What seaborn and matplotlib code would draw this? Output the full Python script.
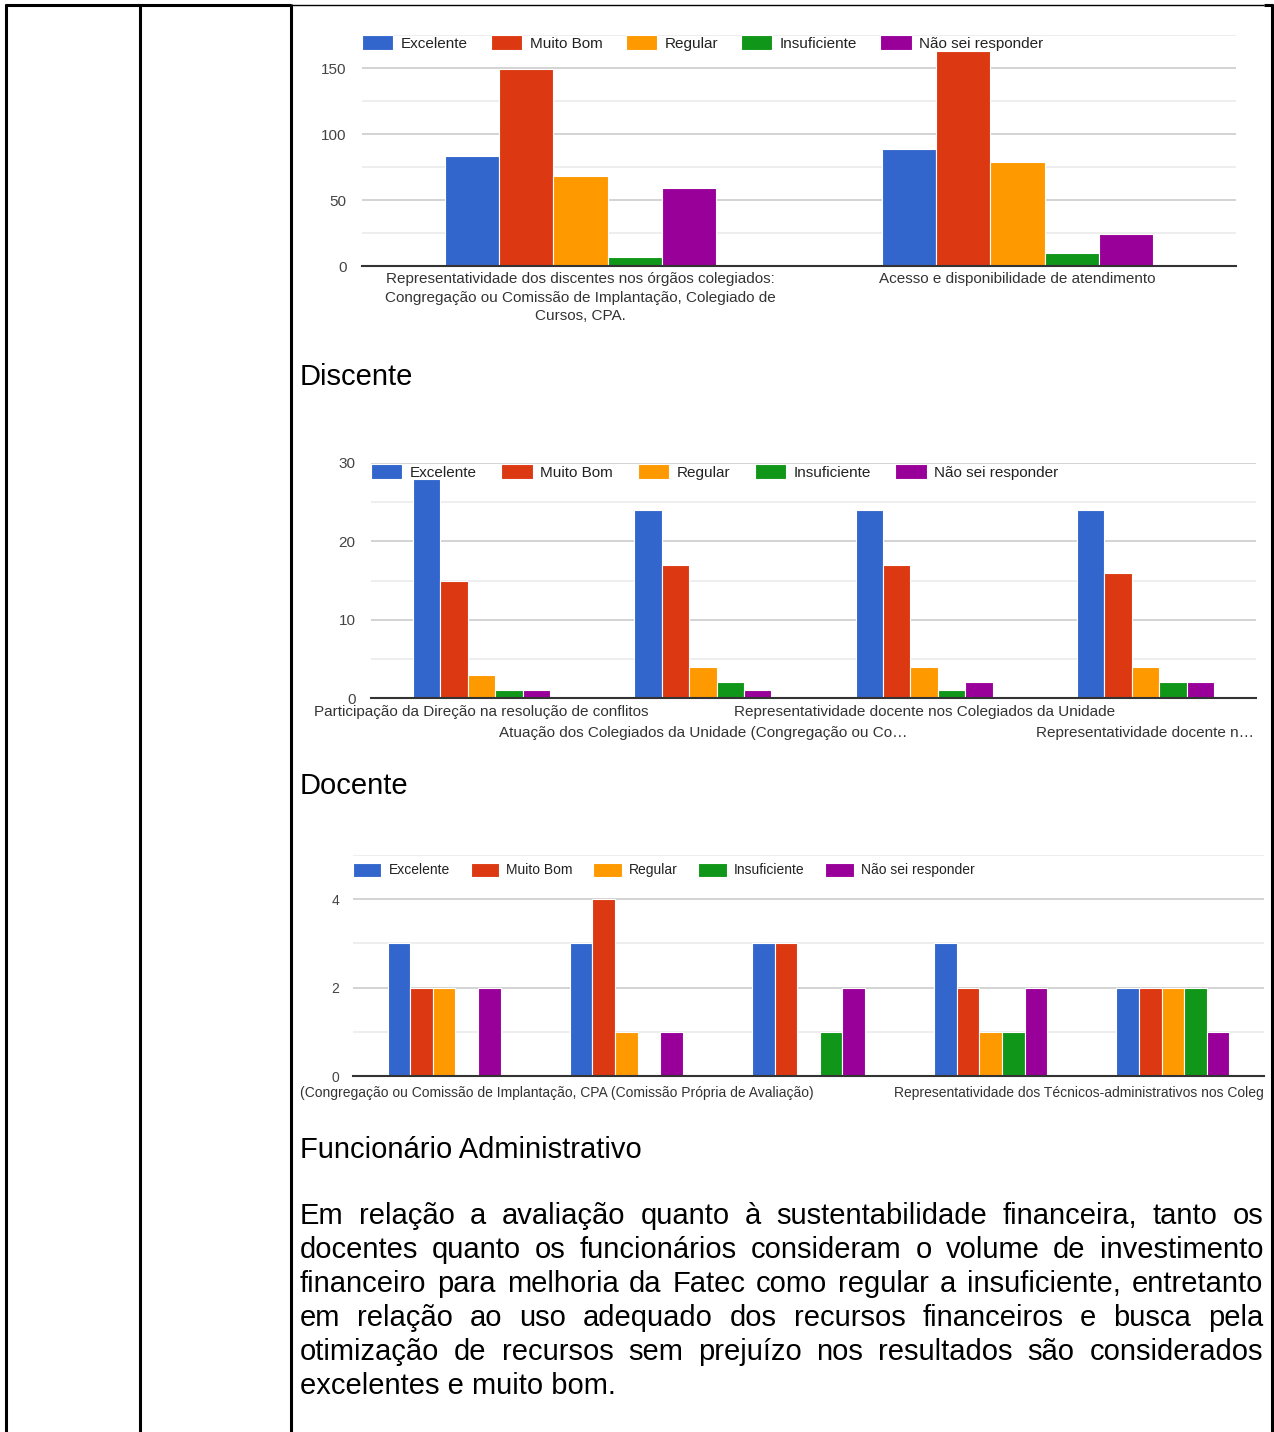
import matplotlib
matplotlib.use("Agg")
import matplotlib.pyplot as plt
from matplotlib.lines import Line2D
import matplotlib.transforms as mtransforms
import seaborn as sns
import pandas as pd

# ---- data ----
series = ["Excelente", "Muito Bom", "Regular", "Insuficiente", "Não sei responder"]
series_colors = ["#3366CC", "#DC3912", "#FF9900", "#109618", "#990099"]

discente_cats = [
    "Representatividade dos discentes nos órgãos colegiados:\n"
    "Congregação ou Comissão de Implantação, Colegiado de\nCursos, CPA.",
    "Acesso e disponibilidade de atendimento",
]
discente_excelente = [83, 89]
discente_muito_bom = [149, 163]
discente_regular = [68, 79]
discente_insuficiente = [7, 10]
discente_nao_sei = [59, 24]

docente_cats = [
    "Participação da Direção na resolução de conflitos",
    "Atuação dos Colegiados da Unidade (Congregação ou Co…",
    "Representatividade docente nos Colegiados da Unidade",
    "Representatividade docente n…",
]
docente_excelente = [28, 24, 24, 24]
docente_muito_bom = [15, 17, 17, 16]
docente_regular = [3, 4, 4, 4]
docente_insuficiente = [1, 2, 1, 2]
docente_nao_sei = [1, 1, 2, 2]

func_cats = ["q1", "q2", "q3", "q4", "q5"]
func_excelente = [3, 3, 3, 3, 2]
func_muito_bom = [2, 4, 3, 2, 2]
func_regular = [2, 1, 0, 1, 2]
func_insuficiente = [0, 0, 1, 1, 2]
func_nao_sei = [2, 1, 2, 2, 1]
func_labels = [
    "(Congregação ou Comissão de Implantação, CPA (Comissão Própria de Avaliação)",
    "Representatividade dos Técnicos-administrativos nos Coleg",
]

captions = ["Discente", "Docente", "Funcionário Administrativo"]
paragraph_lines = [
    "Em relação a avaliação quanto à sustentabilidade financeira, tanto os",
    "docentes quanto os funcionários consideram o volume de investimento",
    "financeiro para melhoria da Fatec como regular a insuficiente, entretanto",
    "em relação ao uso adequado dos recursos financeiros e busca pela",
    "otimização de recursos sem prejuízo nos resultados são considerados",
    "excelentes e muito bom.",
]

plt.rcParams['font.family'] = ['Liberation Sans', 'DejaVu Sans']

W, H = 1274, 1432
fig = plt.figure(figsize=(W / 100, H / 100), dpi=100)


def to_df(cats, cols):
    rows = []
    for s, vals in zip(series, cols):
        for c, v in zip(cats, vals):
            rows.append({"categoria": c, "serie": s, "valor": v})
    return pd.DataFrame(rows)


def px_rect(x0, x1, y0, y1):
    return [x0 / W, 1 - y1 / H, (x1 - x0) / W, (y1 - y0) / H]


def bar_chart(rect, cats, cols, ymax, major, minor, fs, legend_y, colsp, pad):
    ax = fig.add_axes(rect)
    df = to_df(cats, cols)
    sns.barplot(data=df, x="categoria", y="valor", hue="serie", order=cats,
                hue_order=series, palette=series_colors, saturation=1,
                width=0.62, edgecolor="white", linewidth=0.8, errorbar=None,
                ax=ax)
    ax.set_xlabel('')
    ax.set_ylabel('')
    ax.set_ylim(0, ymax)
    ax.set_xlim(-0.5, len(cats) - 0.5)
    ax.set_yticks(major)
    ax.set_yticks(minor, minor=True)
    ax.grid(axis='y', which='major', color='#cccccc', lw=1.2)
    ax.grid(axis='y', which='minor', color='#ebebeb', lw=1.2)
    ax.grid(axis='x', visible=False)
    ax.set_axisbelow(True)
    for s in ['top', 'right', 'left']:
        ax.spines[s].set_visible(False)
    ax.spines['bottom'].set_color('#333333')
    ax.spines['bottom'].set_linewidth(1.5)
    ax.tick_params(axis='both', which='both', length=0, labelsize=fs,
                   labelcolor='#444444')
    ax.tick_params(axis='y', pad=pad)
    handles, labels = ax.get_legend_handles_labels()
    ax.legend(handles, labels, ncol=5, loc='center left',
              bbox_to_anchor=(0, legend_y), frameon=False, fontsize=fs,
              handlelength=2.05, handleheight=1.15, handletextpad=0.5,
              columnspacing=colsp, borderaxespad=0, borderpad=0,
              labelcolor='#222222')
    return ax


# Discente
ax1 = bar_chart(px_rect(362, 1236, 35, 266), discente_cats,
                [discente_excelente, discente_muito_bom, discente_regular,
                 discente_insuficiente, discente_nao_sei],
                175, [0, 50, 100, 150], [25, 75, 125, 175], 11, 0.965, 1.5, 11)
ax1.set_xticks(range(len(discente_cats)))
ax1.set_xticklabels(discente_cats, linespacing=1.45, color='#333333')
ax1.tick_params(axis='x', pad=4)

# Docente
ax2 = bar_chart(px_rect(371, 1256, 463, 698), docente_cats,
                [docente_excelente, docente_muito_bom, docente_regular,
                 docente_insuficiente, docente_nao_sei],
                30, [0, 10, 20, 30], [5, 15, 25], 11, 0.962, 1.6, 11)
ax2.set_xticks(range(len(docente_cats)))
ax2.set_xticklabels([c if i % 2 == 0 else "" for i, c in enumerate(docente_cats)],
                    color='#333333')
ax2.tick_params(axis='x', pad=5)
blend2 = mtransforms.blended_transform_factory(ax2.transData, ax2.transAxes)
for i, c in enumerate(docente_cats):
    if i % 2 == 1:
        ax2.text(i, -0.118, c, transform=blend2, ha='center', va='top',
                 fontsize=11, color='#333333')

# Funcionário
ax3 = bar_chart(px_rect(353, 1264, 855, 1076), func_cats,
                [func_excelente, func_muito_bom, func_regular,
                 func_insuficiente, func_nao_sei],
                5, [0, 2, 4], [1, 3, 5], 10, 0.932, 1.5, 10)
ax3.set_xticks(range(len(func_cats)))
ax3.set_xticklabels([])
ax3.text(-0.058, -0.046, func_labels[0], transform=ax3.transAxes, ha='left',
         va='top', fontsize=10, color='#333333')
ax3.text(1.0, -0.046, func_labels[1], transform=ax3.transAxes, ha='right',
         va='top', fontsize=10, color='#333333')

# captions
for cap, yb in zip(captions, [385, 794, 1158]):
    fig.text(300 / W, 1 - yb / H, cap, fontsize=21, va='baseline', ha='left',
             color='black')

# justified paragraph
fig.canvas.draw()
renderer = fig.canvas.get_renderer()
x_left, x_right = 300, 1263


def word_width(w):
    t = fig.text(0, 0, w, fontsize=21)
    bb = t.get_window_extent(renderer=renderer)
    t.remove()
    return bb.width


for i, line in enumerate(paragraph_lines):
    yb = 1224 + 34 * i
    if i == len(paragraph_lines) - 1:
        fig.text(x_left / W, 1 - yb / H, line, fontsize=21, va='baseline')
        continue
    words = line.split()
    widths = [word_width(w) for w in words]
    gap = (x_right - x_left - sum(widths)) / (len(words) - 1)
    x = x_left
    for w, wd in zip(words, widths):
        fig.text(x / W, 1 - yb / H, w, fontsize=21, va='baseline')
        x += wd + gap

# table borders
def line(xs, ys, lw):
    fig.add_artist(Line2D([x / W for x in xs], [1 - y / H for y in ys],
                          transform=fig.transFigure, color='black', lw=lw,
                          solid_capstyle='butt'))


for xv in [6.5, 139.5, 290.5, 1271.5]:
    line([xv, xv], [4, H], 2.2)
line([5, 291], [5, 5], 2.2)
line([291, 1264], [5, 5], 1.0)
line([1264, 1273], [5, 5], 2.2)

fig.savefig("out.png", dpi=100)
